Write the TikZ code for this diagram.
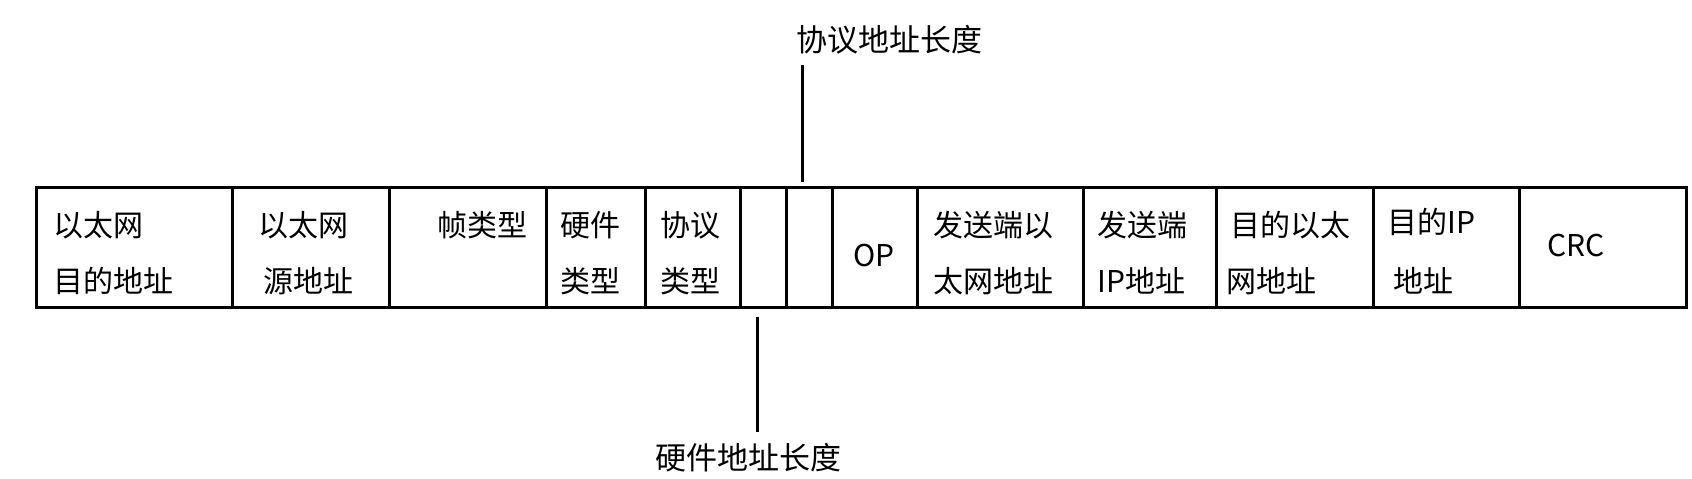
\documentclass[tikz,border=0pt]{standalone}
\usepackage{fontspec}
\setmainfont{Noto Sans CJK SC}
\usetikzlibrary{positioning}
\tikzset{
    every picture/.style={line width=3pt},
    cell/.style={anchor=west,inner sep=0pt,font=\fontsize{30}{30}\selectfont},
    lbl/.style={inner sep=0pt,font=\fontsize{31}{31}\selectfont}
}
\begin{document}
\begin{tikzpicture}[x=1pt,y=-1pt]
    \useasboundingbox (0,0) rectangle (1692,479);
    % frame and field dividers
    \draw (36,187) rectangle (1686,307);
    \foreach \xd in {232,389,546,645,740,786,832,917,1083,1216,1373,1519}
        \draw (\xd,187) -- (\xd,307);

    % field texts
    \node[cell] (f1a) at (52,225) {以太网};
    \node[cell] (f1b) at (52,281) {目的地址};
    \node[cell] (f2a) at (257,225) {以太网};
    \node[cell] (f2b) at (262,281) {源地址};
    \node[cell] (f3) at (436,225) {帧类型};
    \node[cell] (f4a) at (559,225) {硬件};
    \node[cell] (f4b) at (559,281) {类型};
    \node[cell] (f5a) at (659,225) {协议};
    \node[cell] (f5b) at (659,281) {类型};
    \node[cell] (op) at (852,256) {OP};
    \node[cell] (f9a) at (932,225) {发送端以};
    \node[cell] (f9b) at (932,281) {太网地址};
    \node[cell] (f10a) at (1096,225) {发送端};
    \node[cell] (f10b) at (1096,281) {IP地址};
    \node[cell] (f11a) at (1229,225) {目的以太};
    \node[cell] (f11b) at (1225,281) {网地址};
    \node[cell] (f12a) at (1386,222) {目的IP};
    \node[cell] (f12b) at (1392,281) {地址};
    \node[cell] (crc) at (1546,246) {CRC};

    % outside labels
    \node[lbl] (plen) at (889,40) {协议地址长度};
    \node[lbl] (hlen) at (748,458) {硬件地址长度};
    \coordinate (ptop) at (802,65);
    \coordinate (pend) at (802,182);
    \coordinate (htop) at (757,317);
    \coordinate (hend) at (757,432);
    \draw (ptop) -- (pend);
    \draw (htop) -- (hend);
\end{tikzpicture}
\end{document}
